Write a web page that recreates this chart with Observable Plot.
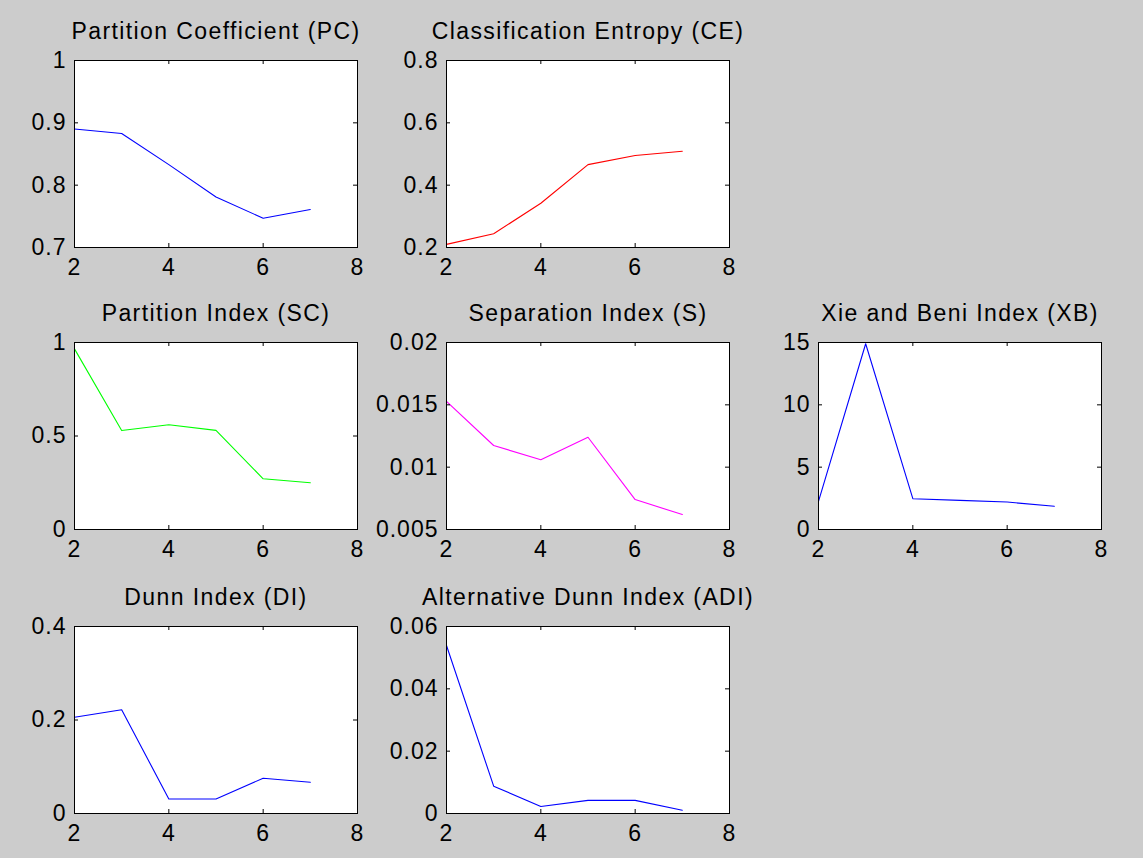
<!DOCTYPE html>
<html>
<head>
<meta charset="utf-8">
<script src="https://cdn.jsdelivr.net/npm/d3@7"></script>
<script src="https://cdn.jsdelivr.net/npm/@observablehq/plot@0.6"></script>
<style>
  body { margin: 0; background: #cccccc; }
  #figure { position: relative; width: 1143px; height: 858px; background: #cccccc; overflow: hidden; }
  #figure svg { position: absolute; }
  #figure svg [aria-label="x-axis tick label"] text,
  #figure svg [aria-label="y-axis tick label"] text { letter-spacing: 1px; }
  #figure svg .panel-title text { letter-spacing: 1.4px; }
</style>
</head>
<body>
<div id="figure"></div>
<script>
// Number of clusters evaluated
const clusterCounts = [2, 3, 4, 5, 6, 7];
const xTicks = [2, 4, 6, 8];

// Validity index values, one per cluster count
const pcValues  = [0.890, 0.883, 0.833, 0.781, 0.747, 0.761];
const ceValues  = [0.210, 0.244, 0.342, 0.466, 0.495, 0.509];
const scValues  = [0.966, 0.529, 0.560, 0.530, 0.271, 0.250];
const sValues   = [0.01527, 0.01174, 0.01059, 0.01240, 0.00740, 0.00620];
const xbValues  = [2.26, 14.9, 2.47, 2.34, 2.20, 1.86];
const diValues  = [0.206, 0.222, 0.031, 0.031, 0.0755, 0.067];
const adiValues = [0.0539, 0.00877, 0.00225, 0.0042, 0.0042, 0.00107];

// Y tick labels per index
const pcTicks  = [0.7, 0.8, 0.9, 1];
const ceTicks  = [0.2, 0.4, 0.6, 0.8];
const scTicks  = [0, 0.5, 1];
const sTicks   = [0.005, 0.01, 0.015, 0.02];
const xbTicks  = [0, 5, 10, 15];
const diTicks  = [0, 0.2, 0.4];
const adiTicks = [0, 0.02, 0.04, 0.06];

const titles = [
  "Partition Coefficient (PC)",
  "Classification Entropy (CE)",
  "Partition Index (SC)",
  "Separation Index (S)",
  "Xie and Beni Index (XB)",
  "Dunn Index (DI)",
  "Alternative Dunn Index (ADI)"
];

// Subplot definitions: series, colour, axis range and grid cell
const panels = [
  {title: titles[0], values: pcValues,  color: "#0000ff", domain: [0.7, 1],      ticks: pcTicks,  col: 0, row: 0},
  {title: titles[1], values: ceValues,  color: "#ff0000", domain: [0.2, 0.8],    ticks: ceTicks,  col: 1, row: 0},
  {title: titles[2], values: scValues,  color: "#00ff00", domain: [0, 1],        ticks: scTicks,  col: 0, row: 1},
  {title: titles[3], values: sValues,   color: "#ff00ff", domain: [0.005, 0.02], ticks: sTicks,   col: 1, row: 1},
  {title: titles[4], values: xbValues,  color: "#0000ff", domain: [0, 15],       ticks: xbTicks,  col: 2, row: 1},
  {title: titles[5], values: diValues,  color: "#0000ff", domain: [0, 0.4],      ticks: diTicks,  col: 0, row: 2},
  {title: titles[6], values: adiValues, color: "#0000ff", domain: [0, 0.06],     ticks: adiTicks, col: 1, row: 2}
];

// Axes geometry (pixels)
const W = 283, H = 187;
const ML = 90, MR = 20, MT = 50, MB = 45;
const colLeft = [74, 446, 818];
const rowTop = [60, 342, 626];
const TICK = 4;

const figure = document.getElementById("figure");

for (const p of panels) {
  const data = clusterCounts.map((x, i) => ({x, y: p.values[i]}));
  const chart = Plot.plot({
    width: ML + W + MR,
    height: MT + H + MB,
    marginLeft: ML, marginRight: MR, marginTop: MT, marginBottom: MB,
    style: {background: "transparent", fontFamily: "'Liberation Sans', Arial, sans-serif", fontSize: "22px", color: "#000", overflow: "visible"},
    x: {domain: [2, 8]},
    y: {domain: p.domain},
    marks: [
      Plot.frame({fill: "white", stroke: null}),
      Plot.line(data, {x: "x", y: "y", stroke: p.color, strokeWidth: 1.1}),
      // inward tick marks on all four sides of the box
      Plot.tickX(xTicks, {x: d => d, insetTop: H - TICK, stroke: "black"}),
      Plot.tickX(xTicks, {x: d => d, insetBottom: H - TICK, stroke: "black"}),
      Plot.tickY(p.ticks, {y: d => d, insetRight: W - TICK, stroke: "black"}),
      Plot.tickY(p.ticks, {y: d => d, insetLeft: W - TICK, stroke: "black"}),
      Plot.axisX(xTicks, {tickSize: 0, tickPadding: 11, tickFormat: d => String(d), label: null, fontSize: 23}),
      Plot.axisY(p.ticks, {tickSize: 0, tickPadding: 8, tickFormat: d => String(d), label: null, fontSize: 23}),
      Plot.frame({stroke: "black", strokeWidth: 1}),
      Plot.text([p.title], {text: d => d, frameAnchor: "top", lineAnchor: "middle", dy: -29, fontSize: 23, fill: "#000", className: "panel-title"})
    ]
  });
  chart.style.left = (colLeft[p.col] - ML) + "px";
  chart.style.top = (rowTop[p.row] - MT) + "px";
  figure.appendChild(chart);
}
</script>
</body>
</html>
